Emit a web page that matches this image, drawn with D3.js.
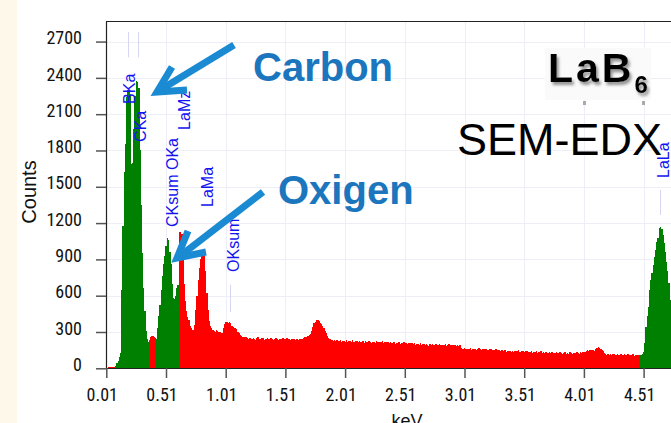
<!DOCTYPE html>
<html><head><meta charset="utf-8">
<script src="https://cdn.jsdelivr.net/npm/d3@7/dist/d3.min.js"></script>
<style>
html,body{margin:0;padding:0;background:#fff;overflow:hidden}
svg{display:block}
.tick text{font-family:"Liberation Sans Narrow","Arial Narrow","Roboto Condensed",sans-serif;font-size:18px;fill:#111}
</style></head><body>
<svg id="chart" width="671" height="423"></svg>
<script>
// ---- data ----
const startKeV = 0.01, stepKeV = 0.01;
const counts = [
0,5,8,6,9,7,10,12,15,40,
60,90,130,650,1180,1620,1850,2240,2300,2287,
2270,1690,1700,1980,2250,2378,2370,2320,1800,1350,
950,660,470,310,240,215,235,262,270,265,
255,248,240,330,430,520,650,760,860,930,
1010,1075,1060,960,860,700,580,570,600,660,
690,1130,1125,1110,950,700,560,470,420,400,
350,335,318,315,360,480,600,730,830,900,
955,975,940,800,620,480,390,350,335,318,
310,304,315,305,298,300,292,288,335,370,
385,382,378,380,372,350,345,332,330,325,
300,292,278,265,262,255,250,258,249,244,
250,238,246,252,241,236,248,255,243,239,
247,251,236,244,240,253,245,238,249,242,
237,245,252,240,234,246,241,237,250,243,
238,247,236,242,233,240,246,238,231,244,
239,235,242,246,238,251,255,262,258,266,
272,285,310,345,372,385,398,402,392,375,
368,352,330,305,290,270,252,240,236,230,
228,236,224,231,222,226,233,220,229,225,
221,230,218,226,224,219,232,221,216,227,
223,215,228,220,217,225,212,222,219,214,
226,218,213,221,216,210,224,215,219,211,
217,222,208,215,220,211,214,206,218,212,
209,215,204,213,210,218,203,211,207,214,
205,210,202,208,213,201,207,199,210,196,
203,198,194,206,192,200,197,191,202,195,
188,197,193,199,190,196,203,189,194,198,
192,186,195,190,198,187,193,201,189,195,
190,185,193,188,196,184,191,170,163,158,
165,160,156,162,158,167,155,161,157,163,
153,159,164,156,152,160,158,149,162,155,
150,157,161,148,155,152,159,146,154,150,
143,148,139,145,151,137,144,140,147,136,
142,138,146,135,141,149,137,132,143,139,
134,140,145,131,138,136,142,129,137,133,
139,130,135,128,141,127,133,126,136,129,
124,132,127,135,121,130,126,133,123,128,
131,125,120,129,134,122,127,119,132,126,
121,128,130,124,133,127,122,131,126,135,
129,138,147,152,144,150,155,148,153,146,
158,165,179,170,160,152,145,128,118,114,
120,112,117,110,115,121,108,113,116,109,
114,118,111,107,116,112,109,115,106,113,
110,117,105,112,108,114,103,110,112,115,
137,207,344,430,510,647,730,790,854,920,
978,1040,1075,1157,1171,1150,1100,1033,964,880,
800,703,565,450,350,270,200
];
const roiStart = [0.095, 0.425, 4.475];
const roiEnd   = [0.365, 0.615, 5.0];
const xTicks = [0.01,0.51,1.01,1.51,2.01,2.51,3.01,3.51,4.01,4.51];
const yTicks = [0,300,600,900,1200,1500,1800,2100,2400,2700];
const peakLabels = ["BKa","CKa","LaMz","CKsum OKa","LaMa","OKsum","LaLa"];
const peakLabelKeV = [0.200,0.296,0.665,0.564,0.858,1.071,4.672];
const peakLabelCounts = [2185,1871,1970,1168,1333,796,1573];
const markerKeV = [0.189,0.278,1.046,4.651];
const markerFrom = [2570,2570,465,1267];
const markerTo = [2780,2780,689,1473];

// ---- chart ----
const svg = d3.select("#chart");
const W = 671, H = 423;
const x = d3.scaleLinear().domain([0.01, 4.74]).range([106.3, 106.3 + 4.73*119.4]);
const y = d3.scaleLinear().domain([0, 2870]).range([368.3, 21]);

svg.append("rect").attr("width",W).attr("height",H).attr("fill","#fff");
svg.append("rect").attr("width",17).attr("height",H).attr("fill","#fdf8ea");

const defs = svg.append("defs");
defs.append("clipPath").attr("id","plotclip").append("rect")
  .attr("x",106).attr("y",21).attr("width",W-106).attr("height",348);
const f = defs.append("filter").attr("id","shadow").attr("x","-20%").attr("y","-20%").attr("width","140%").attr("height","150%");
f.append("feDropShadow").attr("dx",2).attr("dy",3).attr("stdDeviation",1.6).attr("flood-color","#777").attr("flood-opacity",0.8);

// grid
const grid = svg.append("g").attr("clip-path","url(#plotclip)");
grid.selectAll("line.h").data(yTicks.slice(1)).join("line")
  .attr("x1",106).attr("x2",W).attr("y1",d=>Math.round(y(d))+0.5).attr("y2",d=>Math.round(y(d))+0.5)
  .attr("stroke","#eeeef8").attr("stroke-width",1);
grid.selectAll("line.v").data(xTicks.slice(1)).join("line")
  .attr("y1",21).attr("y2",368).attr("x1",d=>Math.round(x(d))+0.5).attr("x2",d=>Math.round(x(d))+0.5)
  .attr("stroke","#eeeef8").attr("stroke-width",1);

// marker lines
grid.selectAll("line.m").data(markerKeV).join("line")
  .attr("x1",d=>Math.round(x(d))+0.5).attr("x2",d=>Math.round(x(d))+0.5)
  .attr("y1",(d,i)=>y(markerTo[i])).attr("y2",(d,i)=>y(markerFrom[i]))
  .attr("stroke","#d6d6f2").attr("stroke-width",1);

// bars
const inRoi = e => roiStart.some((s,i)=> e>=s && e<=roiEnd[i]);
const bars = svg.append("g").attr("clip-path","url(#plotclip)");
bars.selectAll("rect").data(counts).join("rect")
  .attr("x",(d,i)=>x(startKeV+i*stepKeV-stepKeV/2))
  .attr("width",(d,i)=>x(startKeV+i*stepKeV+stepKeV/2)-x(startKeV+i*stepKeV-stepKeV/2)+0.4)
  .attr("y",d=>y(d))
  .attr("height",d=>y(0)-y(d))
  .attr("fill",(d,i)=>inRoi(startKeV+i*stepKeV)?"#008000":"#ff0000")
  .attr("shape-rendering","crispEdges");

// peak labels
svg.append("g").selectAll("text").data(peakLabels).join("text")
  .attr("transform",(d,i)=>`translate(${x(peakLabelKeV[i])},${y(peakLabelCounts[i])}) rotate(-90)`)
  .attr("dy","0.36em")
  .attr("font-family","Liberation Sans, Arial, sans-serif")
  .attr("font-size",16).attr("fill","#1414f0")
  .text(d=>d);

// axes
const yAxis = d3.axisLeft(y).tickValues(yTicks).tickFormat(d3.format("d")).tickSize(10).tickPadding(14).tickSizeOuter(0);
const gy = svg.append("g").attr("transform","translate(106,0)").call(yAxis);
gy.select(".domain").attr("stroke","#222").attr("stroke-width",1.2);
gy.selectAll(".tick line").attr("stroke","#555").attr("stroke-width",1.5);
gy.selectAll(".tick text").attr("dy","0.12em");

const xAxis = d3.axisBottom(x).tickValues(xTicks).tickFormat(d3.format(".2f")).tickSize(10).tickPadding(10).tickSizeOuter(0);
const gx = svg.append("g").attr("transform",`translate(0,${Math.round(y(0))})`).call(xAxis);
gx.select(".domain").attr("stroke","#222").attr("stroke-width",1.2);
gx.selectAll(".tick line").attr("stroke","#555").attr("stroke-width",1.5);
gx.selectAll(".tick text").attr("dx","-4.5");

// top frame
svg.append("line").attr("x1",106).attr("x2",W).attr("y1",21.5).attr("y2",21.5).attr("stroke","#222").attr("stroke-width",1.2);

// axis titles
svg.append("text").attr("transform","translate(36,192) rotate(-90)")
  .attr("text-anchor","middle")
  .attr("font-family","Liberation Sans, Arial, sans-serif").attr("font-size",20).attr("fill","#111")
  .text("Counts");
svg.append("text").attr("x",407).attr("y",427).attr("text-anchor","middle")
  .attr("font-family","Liberation Sans, Arial, sans-serif").attr("font-size",18).attr("fill","#111")
  .text("keV");

// annotations
const blueText = "#1b76bd", blueArrow = "#1a8ad2";
svg.append("text").attr("x",253).attr("y",81).attr("font-family","Liberation Sans, Arial, sans-serif")
  .attr("font-weight","bold").attr("font-size",40).attr("fill",blueText).text("Carbon");
svg.append("text").attr("x",278).attr("y",204).attr("font-family","Liberation Sans, Arial, sans-serif")
  .attr("font-weight","bold").attr("font-size",40).attr("fill",blueText).text("Oxigen");

const arrows = svg.append("g").attr("fill","none").attr("stroke",blueArrow).attr("stroke-width",7).attr("stroke-linejoin","miter");
arrows.append("path").attr("d","M234,45 L160,90");
arrows.append("path").attr("d","M172,67 L157,92 L187,90");
arrows.append("path").attr("d","M263,192 L180,256");
arrows.append("path").attr("d","M188,231 L177,258 L206,252");

// LaB6
svg.append("rect").attr("x",545).attr("y",48).attr("width",106).attr("height",52).attr("fill","#fafafa");
const lab = svg.append("text").attr("x",548).attr("y",82).attr("font-family","Liberation Sans, Arial, sans-serif")
  .attr("font-weight","bold").attr("font-size",41).attr("fill","#000").attr("filter","url(#shadow)");
lab.append("tspan").attr("letter-spacing",3).text("LaB");
lab.append("tspan").attr("font-size",24).attr("dy",11).text("6");
svg.append("rect").attr("x",583).attr("y",101).attr("width",3).attr("height",4).attr("fill","#aaa");
svg.append("rect").attr("x",642).attr("y",101).attr("width",3).attr("height",4).attr("fill","#aaa");
svg.append("text").attr("x",457).attr("y",155).attr("font-family","Liberation Sans, Arial, sans-serif")
  .attr("font-size",45).attr("fill","#000").text("SEM-EDX");
</script>
</body></html>
